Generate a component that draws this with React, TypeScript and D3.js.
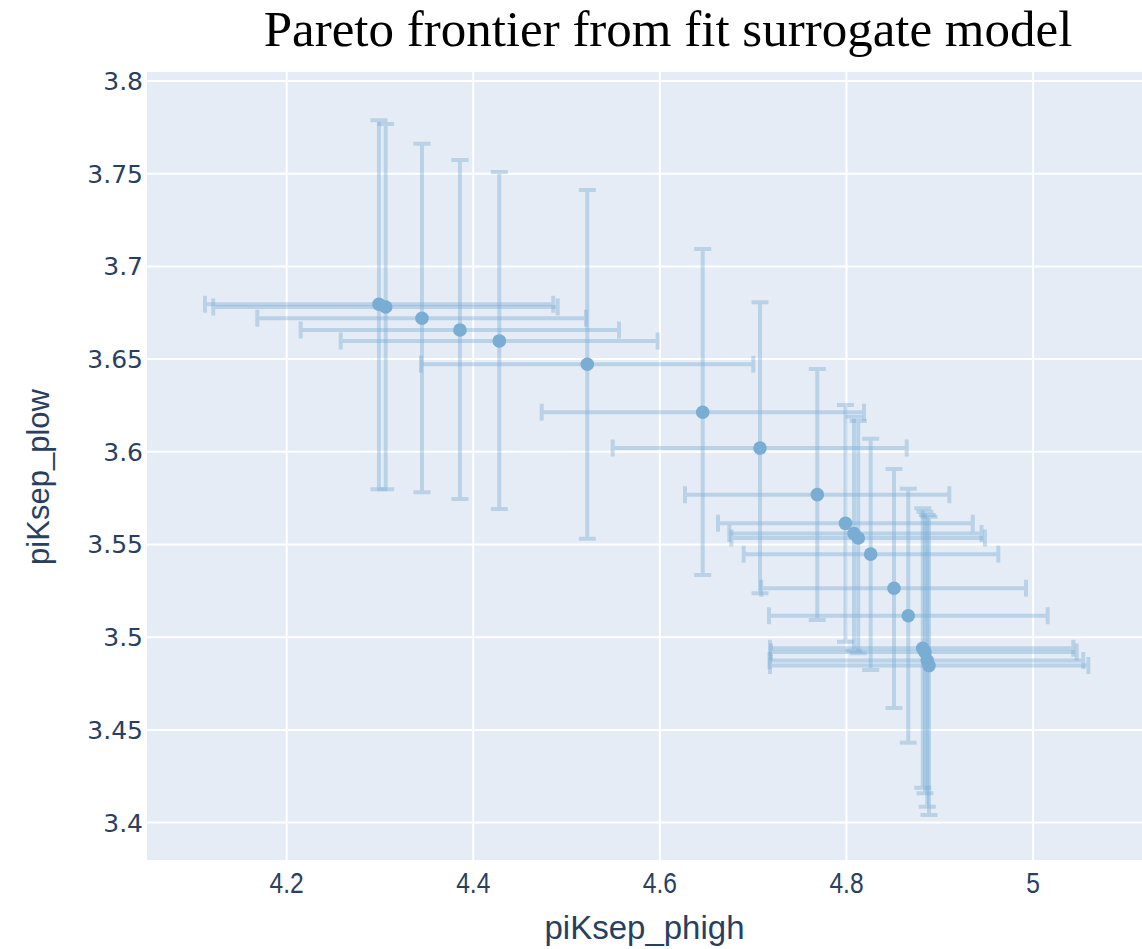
import React from "react";
import * as d3 from "d3";

// Pareto frontier points: objective means with their confidence bounds
const phighMean = [4.2989, 4.3061, 4.345, 4.3857, 4.4279, 4.5222, 4.6459, 4.7073, 4.7687, 4.7989, 4.808, 4.8126, 4.8259, 4.8509, 4.8662, 4.8817, 4.8841, 4.8866, 4.8884];
const phighLower = [4.1124, 4.1213, 4.1685, 4.215, 4.2579, 4.3439, 4.4733, 4.5494, 4.6269, 4.6623, 4.6744, 4.6765, 4.6898, 4.7086, 4.7169, 4.718, 4.7191, 4.7175, 4.718];
const phighUpper = [4.4857, 4.4905, 4.5208, 4.5562, 4.5976, 4.7001, 4.8188, 4.8645, 4.9102, 4.9353, 4.9447, 4.9484, 4.9627, 4.9924, 5.0156, 5.0431, 5.0467, 5.0538, 5.0592];
const plowMean = [3.6796, 3.6781, 3.672, 3.6657, 3.6598, 3.6472, 3.6213, 3.602, 3.5769, 3.5614, 3.5559, 3.5535, 3.5448, 3.5264, 3.5116, 3.494, 3.492, 3.4874, 3.4847];
const plowLower = [3.5798, 3.5798, 3.5782, 3.5745, 3.5692, 3.5531, 3.5336, 3.5237, 3.5093, 3.4976, 3.4927, 3.4913, 3.4823, 3.4618, 3.4431, 3.4188, 3.4158, 3.4086, 3.4041];
const plowUpper = [3.7788, 3.7768, 3.7662, 3.7574, 3.7509, 3.7412, 3.7094, 3.6806, 3.6447, 3.6252, 3.6189, 3.6166, 3.6071, 3.5907, 3.5801, 3.5695, 3.5677, 3.5659, 3.565];

const xTicks = [4.2, 4.4, 4.6, 4.8, 5];
const yTicks = [3.4, 3.45, 3.5, 3.55, 3.6, 3.65, 3.7, 3.75, 3.8];
const xDomain = [4.0503, 5.1167];
const yDomain = [3.37983, 3.80485];

const W = 1142;
const H = 949;
const plot = { left: 147, top: 72, right: 1142, bottom: 860 };

const BG = "#e5ecf6";
const INK = "#2a3f5f";
const BLUE = "rgb(121,173,212)";

export default function App() {
  const x = d3.scaleLinear().domain(xDomain).range([plot.left, plot.right]);
  const y = d3.scaleLinear().domain(yDomain).range([plot.bottom, plot.top]);
  const cap = 8.5;
  const fmtY = (v: number) => d3.format("~g")(+v.toFixed(2));

  return (
    <svg
      width={W}
      height={H}
      style={{ position: "absolute", left: 0, top: 0, background: "#fff" }}
    >
      <rect x={plot.left} y={plot.top} width={plot.right - plot.left} height={plot.bottom - plot.top} fill={BG} />
      {xTicks.map((t) => (
        <line key={"gx" + t} x1={x(t)} x2={x(t)} y1={plot.top} y2={plot.bottom} stroke="#fff" strokeWidth={2} />
      ))}
      {yTicks.map((t) => (
        <line key={"gy" + t} x1={plot.left} x2={plot.right} y1={y(t)} y2={y(t)} stroke="#fff" strokeWidth={2} />
      ))}

      <g stroke={BLUE} strokeOpacity={0.4} strokeWidth={4} fill="none">
        {phighMean.map((_, i) => {
          const cx = x(phighMean[i]);
          const cy = y(plowMean[i]);
          const x0 = x(phighLower[i]);
          const x1 = x(phighUpper[i]);
          const y0 = y(plowLower[i]);
          const y1 = y(plowUpper[i]);
          return (
            <g key={"e" + i}>
              <path d={`M${cx},${y0}V${y1}M${cx - cap},${y0}H${cx + cap}M${cx - cap},${y1}H${cx + cap}`} />
              <path d={`M${x0},${cy}H${x1}M${x0},${cy - cap}V${cy + cap}M${x1},${cy - cap}V${cy + cap}`} />
            </g>
          );
        })}
      </g>

      <g fill={BLUE}>
        {phighMean.map((v, i) => (
          <circle key={"m" + i} cx={x(v)} cy={y(plowMean[i])} r={6.8} />
        ))}
      </g>

      <g fill={INK} fontFamily="'DejaVu Sans', Verdana, sans-serif" fontSize={25} textAnchor="end">
        {yTicks.map((t) => (
          <text key={"ty" + t} x={143} y={y(t)} dy="0.36em">
            {fmtY(t)}
          </text>
        ))}
      </g>
      <g fill={INK} fontFamily="'Liberation Sans', Arial, sans-serif" fontSize={30} textAnchor="middle">
        {xTicks.map((t) => (
          <text key={"tx" + t} transform={`translate(${x(t)},893) scale(0.82,1)`}>
            {d3.format("~g")(t)}
          </text>
        ))}
      </g>

      <text x={(plot.left + plot.right) / 2} y={939} textAnchor="middle" fill={INK} fontFamily="'Liberation Sans', Arial, sans-serif" fontSize={33}>
        piKsep_phigh
      </text>
      <text transform={`translate(49,477) rotate(-90)`} textAnchor="middle" fill={INK} fontFamily="'Liberation Sans', Arial, sans-serif" fontSize={31}>
        piKsep_plow
      </text>

      <text x={668} y={46} textAnchor="middle" fill="#000" fontFamily="'Liberation Serif', 'Times New Roman', serif" fontSize={51}>
        Pareto frontier from fit surrogate model
      </text>
    </svg>
  );
}
